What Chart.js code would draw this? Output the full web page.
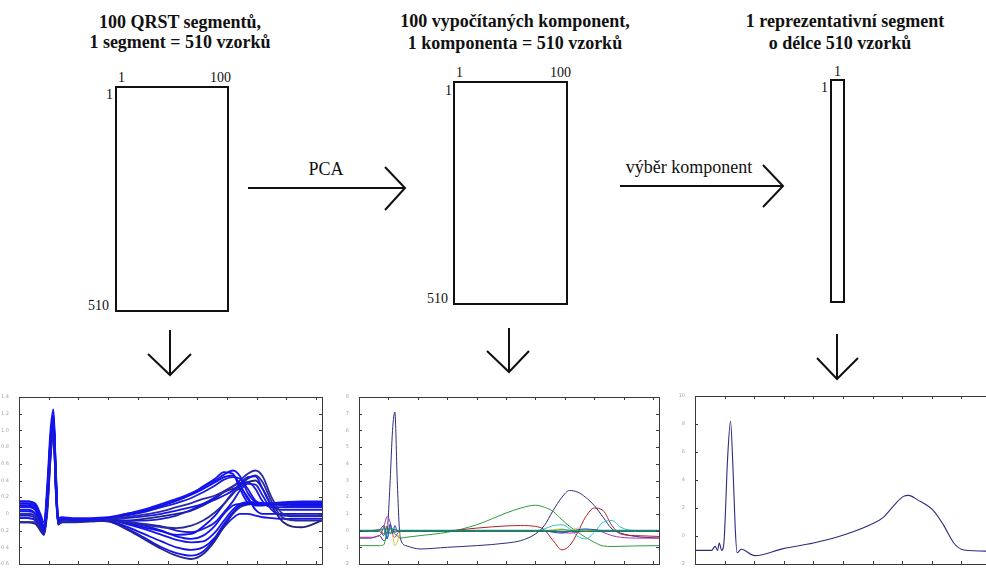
<!DOCTYPE html>
<html>
<head>
<meta charset="utf-8">
<script src="https://cdn.jsdelivr.net/npm/chart.js@4/dist/chart.umd.min.js"></script>
<style>
  html, body { margin: 0; padding: 0; background: #fff; }
  body { width: 986px; height: 570px; overflow: hidden; position: relative; }
  #diagram { position: absolute; left: 0; top: 0; }
  .plot { position: absolute; }
  text { font-family: "Liberation Serif", "Times New Roman", serif; fill: #111; }
  .title { font-size: 18px; font-weight: bold; }
  .lbl { font-size: 14px; }
  .arrow-txt { font-size: 18px; }
</style>
</head>
<body>
<svg id="diagram" width="986" height="390" viewBox="0 0 986 390" font-family="Liberation Serif">
  <g stroke="#111" stroke-width="2" fill="none">
    <!-- matrices -->
    <rect x="116" y="87" width="112" height="224"/>
    <rect x="454" y="82" width="113" height="222"/>
    <rect x="831" y="80" width="13" height="222"/>
    <!-- horizontal arrows -->
    <path d="M248 188 H405 M385 167 L405 188 L385 210"/>
    <path d="M620 186 H783 M763 165 L783 186 L763 207"/>
    <!-- down arrows -->
    <path d="M170 330 V375 M148 354 L170 375 L191 354"/>
    <path d="M509 328 V372 M487 351 L509 372 L529 351"/>
    <path d="M837 334 V379 M817 358 L837 379 L858 358"/>
  </g>
  <text class="title" x="180" y="28" text-anchor="middle">100 QRST segmentů,</text>
  <text class="title" x="180" y="48" text-anchor="middle">1 segment = 510 vzorků</text>
  <text class="title" x="515" y="27" text-anchor="middle">100 vypočítaných komponent,</text>
  <text class="title" x="515" y="49" text-anchor="middle">1 komponenta = 510 vzorků</text>
  <text class="title" x="845" y="27" text-anchor="middle">1 reprezentativní segment</text>
  <text class="title" x="840" y="49" text-anchor="middle">o délce 510 vzorků</text>

  <text class="lbl" x="118" y="82">1</text>
  <text class="lbl" x="231" y="82" text-anchor="end">100</text>
  <text class="lbl" x="113" y="99" text-anchor="end">1</text>
  <text class="lbl" x="109" y="310" text-anchor="end">510</text>

  <text class="lbl" x="456" y="77">1</text>
  <text class="lbl" x="571" y="77" text-anchor="end">100</text>
  <text class="lbl" x="452" y="95" text-anchor="end">1</text>
  <text class="lbl" x="448" y="303" text-anchor="end">510</text>

  <text class="lbl" x="834" y="76">1</text>
  <text class="lbl" x="828" y="92" text-anchor="end">1</text>

  <text class="arrow-txt" x="326" y="175" text-anchor="middle">PCA</text>
  <text class="arrow-txt" x="689" y="173" text-anchor="middle">výběr komponent</text>
</svg>

<div class="plot" style="left:0px;top:390px;"><canvas id="c1" width="330" height="182"></canvas></div>
<div class="plot" style="left:340px;top:390px;"><canvas id="c2" width="330" height="182"></canvas></div>
<div class="plot" style="left:670px;top:390px;"><canvas id="c3" width="340" height="182"></canvas></div>

<script>
// ---- chart 1: QRST segments (sampled subset of the 100 overlaid segments) ----
const segX = [0, 15, 28, 36, 42, 48, 53, 58, 62, 66, 72, 90, 120, 150, 180, 210, 240, 265, 290, 310, 330, 345, 360, 372, 385, 398, 410, 425, 445, 475, 510];
const segA = [0.15, 0.15, 0.10, -0.05, -0.15, 0.3, 0.85, 1.2, 0.5, -0.08, -0.05, -0.06, -0.06, -0.05, 0.0, 0.05, 0.12, 0.18, 0.25, 0.32, 0.4, 0.47, 0.52, 0.45, 0.25, 0.14, 0.12, 0.12, 0.13, 0.13, 0.13];
const segB = [0.1, 0.1, 0.05, -0.1, -0.2, 0.2, 0.8, 1.1, 0.4, -0.1, -0.06, -0.07, -0.07, -0.05, -0.01, 0.03, 0.1, 0.16, 0.23, 0.3, 0.38, 0.44, 0.46, 0.35, 0.18, 0.1, 0.1, 0.11, 0.11, 0.1, 0.1];
const segC = [0.0, 0.0, -0.02, -0.12, -0.22, 0.15, 0.75, 1.05, 0.35, -0.12, -0.08, -0.08, -0.07, -0.06, -0.04, -0.01, 0.03, 0.08, 0.13, 0.18, 0.22, 0.27, 0.33, 0.4, 0.48, 0.52, 0.45, 0.2, 0.0, -0.02, -0.02];
const segD = [0.05, 0.05, 0.0, -0.1, -0.18, 0.25, 0.85, 1.15, 0.45, -0.1, -0.07, -0.07, -0.07, -0.06, -0.05, -0.03, 0.0, 0.04, 0.08, 0.12, 0.17, 0.22, 0.28, 0.36, 0.44, 0.45, 0.3, 0.1, 0.05, 0.05, 0.05];
const segE = [-0.05, -0.05, -0.08, -0.15, -0.25, 0.1, 0.7, 1.0, 0.3, -0.12, -0.09, -0.09, -0.08, -0.07, -0.08, -0.08, -0.06, -0.02, 0.05, 0.12, 0.2, 0.27, 0.33, 0.37, 0.38, 0.3, 0.15, 0.08, 0.08, 0.08, 0.08];
const segF = [-0.1, -0.1, -0.1, -0.18, -0.22, 0.1, 0.7, 1.0, 0.3, -0.12, -0.1, -0.1, -0.09, -0.08, -0.1, -0.13, -0.16, -0.17, -0.14, -0.08, 0.02, 0.12, 0.24, 0.34, 0.42, 0.46, 0.38, 0.15, -0.05, -0.08, -0.08];
const segG = [0.1, 0.1, 0.05, -0.08, -0.18, 0.25, 0.85, 1.1, 0.4, -0.1, -0.07, -0.07, -0.07, -0.07, -0.12, -0.18, -0.25, -0.31, -0.34, -0.33, -0.22, -0.08, 0.05, 0.12, 0.14, 0.14, 0.13, 0.13, 0.13, 0.14, 0.14];
const segH = [0.12, 0.12, 0.08, -0.05, -0.15, 0.3, 0.9, 1.15, 0.45, -0.08, -0.06, -0.06, -0.07, -0.08, -0.15, -0.24, -0.33, -0.4, -0.43, -0.4, -0.28, -0.12, 0.02, 0.1, 0.12, 0.12, 0.12, 0.12, 0.12, 0.12, 0.12];
const segI = [0.0, 0.0, -0.03, -0.12, -0.2, 0.2, 0.8, 1.05, 0.35, -0.1, -0.08, -0.08, -0.08, -0.09, -0.18, -0.3, -0.42, -0.5, -0.54, -0.48, -0.32, -0.15, 0.0, 0.08, 0.11, 0.12, 0.12, 0.12, 0.1, 0.08, 0.08];
const segJ = [-0.05, -0.05, -0.07, -0.14, -0.24, 0.15, 0.75, 1.0, 0.3, -0.12, -0.09, -0.09, -0.08, -0.09, -0.17, -0.28, -0.4, -0.47, -0.5, -0.45, -0.3, -0.16, -0.05, 0.0, 0.0, -0.02, -0.04, -0.05, -0.06, -0.06, -0.06];
const segK = [0.08, 0.08, 0.04, -0.08, -0.16, 0.28, 0.88, 1.12, 0.42, -0.1, -0.07, -0.07, -0.07, -0.07, -0.09, -0.12, -0.15, -0.2, -0.22, -0.18, -0.1, 0.02, 0.15, 0.28, 0.36, 0.35, 0.22, 0.05, -0.02, -0.03, -0.03];
const segL = [-0.1, -0.1, -0.12, -0.2, -0.25, 0.05, 0.65, 0.98, 0.25, -0.13, -0.1, -0.09, -0.09, -0.08, -0.08, -0.06, -0.03, 0.0, 0.04, 0.1, 0.18, 0.26, 0.3, 0.33, 0.38, 0.4, 0.3, 0.1, -0.1, -0.16, -0.08];
const segM = [0.15, 0.15, 0.12, 0.0, -0.1, 0.4, 1.0, 1.25, 0.55, -0.05, -0.04, -0.05, -0.05, -0.04, 0.0, 0.04, 0.1, 0.16, 0.24, 0.33, 0.42, 0.5, 0.48, 0.3, 0.14, 0.12, 0.12, 0.13, 0.14, 0.15, 0.15];
const segN = [-0.02, -0.02, -0.05, -0.13, -0.22, 0.2, 0.8, 1.05, 0.35, -0.11, -0.08, -0.08, -0.08, -0.08, -0.11, -0.16, -0.21, -0.25, -0.24, -0.15, -0.02, 0.12, 0.25, 0.3, 0.2, 0.05, 0.0, 0.0, 0.0, 0.0, 0.0];
const segO = [0.03, 0.03, 0.0, -0.1, -0.2, 0.22, 0.82, 1.08, 0.38, -0.1, -0.07, -0.07, -0.07, -0.07, -0.1, -0.14, -0.2, -0.27, -0.3, -0.26, -0.14, 0.0, 0.1, 0.12, 0.12, 0.12, 0.12, 0.12, 0.12, 0.12, 0.12];
const segP = [0.13, 0.13, 0.09, -0.04, -0.14, 0.32, 0.92, 1.18, 0.48, -0.07, -0.05, -0.06, -0.06, -0.05, -0.02, 0.02, 0.08, 0.13, 0.19, 0.26, 0.34, 0.41, 0.44, 0.42, 0.3, 0.16, 0.12, 0.12, 0.12, 0.12, 0.12];
const segments = [segA, segB, segC, segD, segE, segF, segG, segH, segI, segJ, segK, segL, segM, segN, segO, segP];
const segColors = ['#1414f0', '#1010e8', '#2a2aa8', '#1414f0', '#1a1ad8', '#2a2a98', '#1414f0', '#1010e8', '#26268c', '#1414f0', '#1a1ad8', '#22227a', '#1414f0', '#1010e8', '#1414f0', '#1a1ad8'];

// ---- chart 2: computed PCA components ----
const compX = [0, 20, 35, 42, 48, 53, 57, 61, 65, 70, 80, 104, 150, 200, 250, 275, 300, 315, 330, 345, 358, 372, 385, 400, 415, 430, 445, 470, 510];
const compNavy    = [-0.45, -0.45, -0.3, -0.6, 0.0, 3.0, 6.0, 7.1, 3.0, -0.4, -0.9, -1.1, -1.0, -0.9, -0.75, -0.6, -0.2, 0.3, 1.2, 2.0, 2.4, 2.3, 2.0, 1.5, 0.8, 0.1, -0.15, -0.35, -0.45];
const compGreen   = [-0.9, -0.9, -0.9, -0.85, -0.1, 0.1, 0.0, -0.2, -0.3, -0.45, -0.4, -0.3, -0.1, 0.35, 1.05, 1.35, 1.52, 1.4, 1.15, 0.65, 0.25, -0.1, -0.4, -0.7, -0.92, -0.95, -0.94, -0.92, -0.9];
const compRed     = [0.0, 0.0, 0.05, -0.2, 0.3, 0.2, -0.1, 0.1, -0.05, 0.0, 0.0, 0.0, 0.0, 0.15, 0.28, 0.3, 0.25, 0.05, -0.6, -1.15, -0.9, -0.1, 0.8, 1.35, 1.2, 0.3, -0.2, -0.3, -0.35];
const compCyan    = [0.0, 0.0, 0.0, 0.2, -0.4, 0.3, 0.1, -0.1, 0.0, 0.0, 0.0, 0.0, 0.0, 0.0, 0.0, 0.0, 0.0, 0.1, 0.3, 0.35, 0.1, -0.35, -0.5, -0.1, 0.5, 0.6, 0.2, 0.0, 0.0];
const compMagenta = [-0.4, -0.4, -0.3, 0.2, 0.85, 0.5, -0.2, -0.4, -0.2, 0.0, 0.0, 0.0, 0.0, 0.0, 0.0, 0.0, 0.0, 0.0, -0.05, -0.1, -0.15, -0.1, 0.0, 0.05, -0.1, -0.3, -0.4, -0.45, -0.45];
const compYellow  = [0.0, 0.0, 0.0, 0.1, 0.3, 0.2, -0.3, -0.9, -0.7, -0.1, 0.0, 0.0, 0.0, 0.0, 0.0, 0.0, 0.0, 0.0, 0.05, 0.1, 0.0, 0.15, 0.0, 0.0, 0.0, 0.0, 0.0, 0.0, 0.0];
const compBlue    = [0.0, 0.0, 0.05, 0.3, -0.5, 0.4, -0.2, 0.3, 0.0, 0.0, 0.0, 0.0, 0.0, 0.0, 0.0, 0.0, 0.0, 0.0, -0.1, -0.15, -0.05, 0.05, 0.1, 0.05, 0.0, 0.0, 0.0, 0.0, 0.0];
const compTeal    = [0.02, 0.02, 0.02, 0.1, -0.15, 0.15, 0.0, 0.05, 0.02, 0.02, 0.02, 0.02, 0.02, 0.02, 0.02, 0.02, 0.02, 0.02, 0.0, 0.05, 0.02, 0.0, 0.05, 0.02, 0.02, 0.02, 0.02, 0.02, 0.02];
const compDkGreen = [-0.05, -0.05, -0.05, -0.3, 0.2, -0.2, 0.1, -0.1, -0.05, -0.05, -0.05, -0.05, -0.05, -0.05, -0.05, -0.05, -0.05, -0.05, -0.05, -0.05, -0.05, -0.05, -0.05, -0.05, -0.05, -0.05, -0.05, -0.05, -0.05];
const components = [compTeal, compDkGreen, compBlue, compYellow, compMagenta, compCyan, compRed, compGreen, compNavy];
const compColors = ['#1a8a8a', '#127a3a', '#2040d0', '#d8c020', '#b030b0', '#30c0c8', '#b02020', '#2f9a3a', '#2c2c80'];

// ---- chart 3: representative segment ----
const repX = [0, 28, 34, 38, 41, 45, 49, 55, 60, 64, 68, 71, 78, 101, 149, 200, 251, 296, 318, 335, 352, 361, 375, 403, 420, 437, 454, 492, 510];
const repY = [-1.03, -1.03, -0.74, -1.03, -0.5, -1.03, -0.4, 5.5, 8.2, 5.0, 0.5, -1.2, -0.95, -1.4, -0.9, -0.5, 0.07, 0.8, 1.33, 2.14, 2.83, 2.9, 2.6, 1.8, 0.76, -0.5, -1.0, -1.08, -1.08];

// matlab-like box with inward ticks on all four sides
const boxTicks = {
  id: 'boxTicks',
  afterDraw(chart) {
    const { ctx, chartArea: a, scales: { x, y } } = chart;
    ctx.save();
    ctx.strokeStyle = '#3a3a3a';
    ctx.lineWidth = 1;
    ctx.strokeRect(Math.round(a.left) + 0.5, Math.round(a.top) + 0.5, Math.round(a.right - a.left), Math.round(a.bottom - a.top));
    ctx.beginPath();
    x.ticks.forEach(t => {
      const px = Math.round(x.getPixelForValue(t.value)) + 0.5;
      ctx.moveTo(px, a.top); ctx.lineTo(px, a.top + 3);
      ctx.moveTo(px, a.bottom); ctx.lineTo(px, a.bottom - 3);
    });
    y.ticks.forEach(t => {
      const py = Math.round(y.getPixelForValue(t.value)) + 0.5;
      ctx.moveTo(a.left, py); ctx.lineTo(a.left + 3, py);
      ctx.moveTo(a.right, py); ctx.lineTo(a.right - 3, py);
    });
    ctx.stroke();
    ctx.restore();
  }
};

function makeLines(xs, series, colors, width) {
  return series.map((ys, i) => ({
    data: ys.map((v, j) => ({ x: xs[j], y: v })),
    borderColor: colors[i],
    borderWidth: width,
    pointRadius: 0,
    cubicInterpolationMode: 'monotone',
    fill: false
  }));
}

function makeChart(id, datasets, yMin, yMax, yStep, yWidth, pad) {
  return new Chart(document.getElementById(id), {
    type: 'line',
    data: { datasets },
    options: {
      responsive: false,
      animation: false,
      events: [],
      layout: { padding: pad },
      plugins: { legend: { display: false }, tooltip: { enabled: false } },
      scales: {
        x: {
          type: 'linear', min: 0, max: 510,
          ticks: { display: false, stepSize: 50, includeBounds: false },
          grid: { display: false }, border: { display: false }
        },
        y: {
          min: yMin, max: yMax,
          ticks: { stepSize: yStep, font: { size: 5, family: 'DejaVu Sans' }, color: '#a8a8a8', padding: 2 },
          grid: { display: false }, border: { display: false },
          afterFit: s => { s.width = yWidth; }
        }
      }
    },
    plugins: [boxTicks]
  });
}

makeChart('c1', makeLines(segX, segments, segColors, 1.8), -0.6, 1.4, 0.2, 19, { top: 7, right: 8, bottom: 0, left: 0 });
makeChart('c2', makeLines(compX, components, compColors, 1), -2, 8, 1, 19, { top: 7, right: 11, bottom: 0, left: 0 });
makeChart('c3', makeLines(repX, [repY], ['#2c2c80'], 1.1), -2, 10, 2, 25, { top: 6, right: 13, bottom: 0, left: 0 });
</script>
</body>
</html>
